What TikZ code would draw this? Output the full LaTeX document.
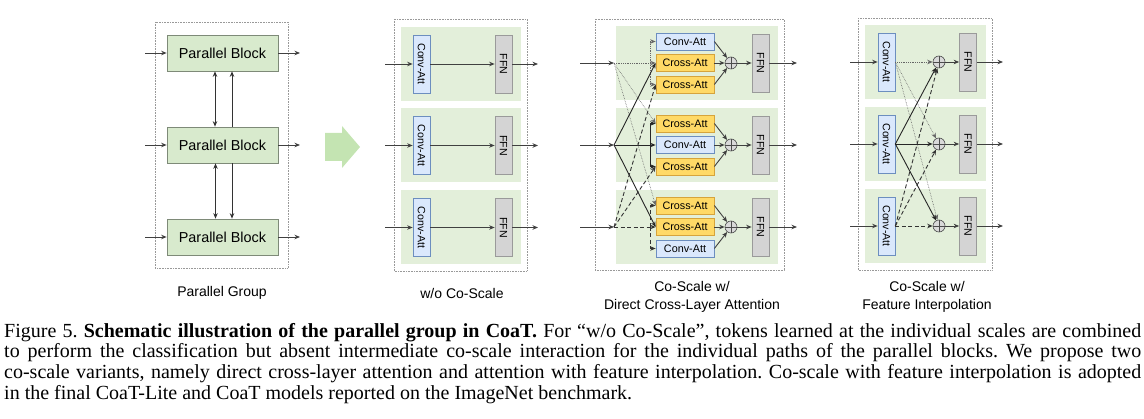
\documentclass[tikz,border=0pt]{standalone}
\usepackage{fontspec}
\setmainfont{Liberation Serif}
\setsansfont{Liberation Sans}
\usetikzlibrary{arrows.meta,positioning}

\definecolor{rowgreen}{HTML}{E3EFDA}
\definecolor{blockgreen}{HTML}{D8EACD}
\definecolor{blockedge}{HTML}{7E8A78}
\definecolor{convfill}{HTML}{DAE8FC}
\definecolor{convedge}{HTML}{6C8EBF}
\definecolor{crossfill}{HTML}{FFD966}
\definecolor{crossedge}{HTML}{D6A43C}
\definecolor{ffnfill}{HTML}{D4D4D4}
\definecolor{ffnedge}{HTML}{9A9A9A}
\definecolor{arrowgreen}{HTML}{C4E4B2}

\tikzset{
        % Dotted frames round the groups
        group/.style={draw=gray!80, densely dotted, line width=0.6pt},
        % Parallel blocks
        pblock/.style={draw=blockedge, fill=blockgreen, line width=0.7pt, minimum width=111pt, minimum height=36pt, inner sep=0pt, font=\sffamily\fontsize{14.4}{16}\selectfont},
        % Attention and FFN boxes
        convv/.style={draw=convedge, fill=convfill, line width=0.7pt, minimum width=17pt, minimum height=58pt, inner sep=0pt, font=\sffamily\fontsize{10.6}{12}\selectfont},
        ffnv/.style={draw=ffnedge, fill=ffnfill, line width=0.7pt, minimum width=17pt, minimum height=58pt, inner sep=0pt, font=\sffamily\fontsize{10.6}{12}\selectfont},
        convh/.style={draw=convedge, fill=convfill, line width=0.7pt, minimum width=58pt, minimum height=17pt, inner sep=0pt, font=\sffamily\fontsize{10.8}{12}\selectfont},
        crossh/.style={convh, draw=crossedge, fill=crossfill},
        % Sum nodes
        sumnode/.style={circle, draw=black!70, fill=black!15, line width=0.6pt, minimum size=12pt, inner sep=0pt,
            path picture={\draw[black!70, line width=0.6pt] (path picture bounding box.north) -- (path picture bounding box.south) (path picture bounding box.west) -- (path picture bounding box.east);}},
        % Connectors
        flow/.style={draw=black!75, line width=0.9pt},
        link/.style={draw=black!80, line width=0.8pt},
        src1/.style={draw=black!60, densely dotted, line width=0.8pt},
        src2/.style={draw=black!85, line width=0.9pt},
        src3/.style={draw=black!80, dash pattern=on 4pt off 2.5pt, line width=0.9pt},
        % Texts
        panellabel/.style={align=center, font=\sffamily\fontsize{14}{18}\selectfont},
        caption/.style={anchor=north west, inner sep=0pt, text width=1137pt, align=justify, font=\frenchspacing\fontsize{20}{20.7}\selectfont},
        rowbg/.style={fill=rowgreen},
        bigarrow/.style={fill=arrowgreen}
}

\begin{document}
\begin{tikzpicture}[x=1pt, y=-1pt, >={Stealth[length=5.5pt,width=4.5pt]}]
    \useasboundingbox (0,0) rectangle (1144,419);

    % Parallel group
    \draw[group] (155,22) rectangle (288,268);
    \foreach \r/\y in {1/53,2/145,3/237}{
        \node[pblock] (pb\r) at (222.5,\y) {Parallel Block};
        \coordinate (pin\r) at (145,\y);
        \coordinate (pout\r) at (300,\y);
        \draw[flow,->] (pin\r) -- (pb\r);
        \draw[flow,->] (pb\r) -- (pout\r);
    }
    \draw[link,<->] ([xshift=-7.5pt]pb1.south) -- ([xshift=-7.5pt]pb2.north);
    \draw[link,->] ([xshift=9.5pt]pb2.north) -- ([xshift=9.5pt]pb1.south);
    \draw[link,<->] ([xshift=-7pt]pb2.south) -- ([xshift=-7pt]pb3.north);
    \draw[link,->] ([xshift=9.5pt]pb2.south) -- ([xshift=9.5pt]pb3.north);
    \node[panellabel] (lab1) at (222,293) {Parallel Group};

    % Green arrow
    \fill[bigarrow] (325,133) -- (342,133) -- (342,126) -- (360,147) -- (342,168) -- (342,161) -- (325,161) -- cycle;

    % w/o Co-Scale
    \draw[group] (394,19) rectangle (527,271);
    \foreach \r/\y in {1/64,2/145.5,3/227.5}{
        \fill[rowbg] (401,\y-37) rectangle (521,\y+37);
        \node[convv] (q\r) at (421.5,\y) {\rotatebox{-90}{Conv-Att}};
        \node[ffnv] (f\r) at (503.5,\y) {\rotatebox{-90}{FFN}};
        \coordinate (qin\r) at (385,\y);
        \coordinate (qout\r) at (538,\y);
        \draw[flow,->] (qin\r) -- (q\r);
        \draw[flow,->] (q\r) -- (f\r);
        \draw[flow,->] (f\r) -- (qout\r);
    }
    \node[panellabel] (lab2) at (462,293) {w/o Co-Scale};

    % Co-Scale w/ direct cross-layer attention
    \draw[group] (595,19) rectangle (784,270);
    \foreach \r/\y in {1/63,2/145,3/227}{
        \fill[rowbg] (616,\y-37) rectangle (778,\y+37);
        \node[sumnode] (s\r) at (731,\y) {};
        \node[ffnv] (g\r) at (760.5,\y) {\rotatebox{-90}{FFN}};
        \coordinate (cin\r) at (580,\y);
        \coordinate (sp\r) at (614,\y);
        \coordinate (el\r) at (650,\y);
        \coordinate (cout\r) at (797,\y);
        \draw[flow,->] (cin\r) -- (sp\r);
        \draw[flow,->] (s\r) -- (g\r);
        \draw[flow,->] (g\r) -- (cout\r);
    }
    \node[convh] (t1) at (685,41.5) {Conv-Att};
    \node[crossh] (m1) at (685,63) {Cross-Att};
    \node[crossh] (b1) at (685,84.5) {Cross-Att};
    \node[crossh] (t2) at (685,123.5) {Cross-Att};
    \node[convh] (m2) at (685,145) {Conv-Att};
    \node[crossh] (b2) at (685,166.5) {Cross-Att};
    \node[crossh] (t3) at (685,205.5) {Cross-Att};
    \node[crossh] (m3) at (685,227) {Cross-Att};
    \node[convh] (b3) at (685,248.5) {Conv-Att};
    \foreach \r in {1,2,3}{
        \draw[flow,->] (t\r.east) -- (s\r);
        \draw[flow,->] (m\r) -- (s\r);
        \draw[flow,->] (b\r.east) -- (s\r);
    }
    % own scale
    \draw[src1,->] (sp1) -- (m1);
    \draw[src1,->] (el1) |- (t1.west);
    \draw[src1,->] (el1) |- (b1.west);
    \draw[src2,->] (sp2) -- (m2);
    \draw[src2,->] (el2) |- (t2.west);
    \draw[src2,->] (el2) |- (b2.west);
    \draw[src3,->] (sp3) -- (m3);
    \draw[src3,->] (el3) |- (t3.west);
    \draw[src3,->] (el3) |- (b3.west);
    % other scales
    \draw[src1,->,line width=0.6pt] (sp1) -- (t2.west);
    \draw[src1,->,line width=0.6pt] (sp1) -- (t3.west);
    \draw[src2,->] (sp2) -- (m1.west);
    \draw[src2,->] (sp2) -- (m3.west);
    \draw[src3,->] (sp3) -- (b1.west);
    \draw[src3,->] (sp3) -- (b2.west);
    \node[panellabel] (lab3) at (692,297) {Co-Scale w/\\Direct Cross-Layer Attention};

    % Co-Scale w/ feature interpolation
    \draw[group] (858,18) rectangle (992,270);
    \foreach \r/\y in {1/62,2/144,3/226}{
        \fill[rowbg] (865,\y-37) rectangle (986,\y+37);
        \node[convv] (v\r) at (886.5,\y) {\rotatebox{-90}{Conv-Att}};
        \node[sumnode] (u\r) at (939,\y) {};
        \node[ffnv] (h\r) at (968,\y) {\rotatebox{-90}{FFN}};
        \coordinate (vin\r) at (850,\y);
        \coordinate (vout\r) at (1003,\y);
        \draw[flow,->] (vin\r) -- (v\r);
        \draw[flow,->] (u\r) -- (h\r);
        \draw[flow,->] (h\r) -- (vout\r);
    }
    \draw[src1,->] (v1) -- (u1);
    \draw[src1,->,line width=0.6pt] (v1.east) -- (u2);
    \draw[src1,->,line width=0.6pt] (v1.east) -- (u3);
    \draw[src2,->] (v2) -- (u2);
    \draw[src2,->] (v2.east) -- (u1);
    \draw[src2,->] (v2.east) -- (u3);
    \draw[src3,->] (v3) -- (u3);
    \draw[src3,->] (v3.east) -- (u1);
    \draw[src3,->] (v3.east) -- (u2);
    \node[panellabel] (lab4) at (927,297) {Co-Scale w/\\Feature Interpolation};

    % Caption
    \node[caption] (cap) at (4,323) {Figure 5. \textbf{Schematic illustration of the parallel group in CoaT.} For “w/o Co-Scale”, tokens learned at the individual scales are combined\linebreak to perform the classification but absent intermediate co-scale interaction for the individual paths of the parallel blocks. We propose two\linebreak co-scale variants, namely direct cross-layer attention and attention with feature interpolation. Co-scale with feature interpolation is adopted\linebreak in the final CoaT-Lite and CoaT models reported on the ImageNet benchmark.};
\end{tikzpicture}
\end{document}
